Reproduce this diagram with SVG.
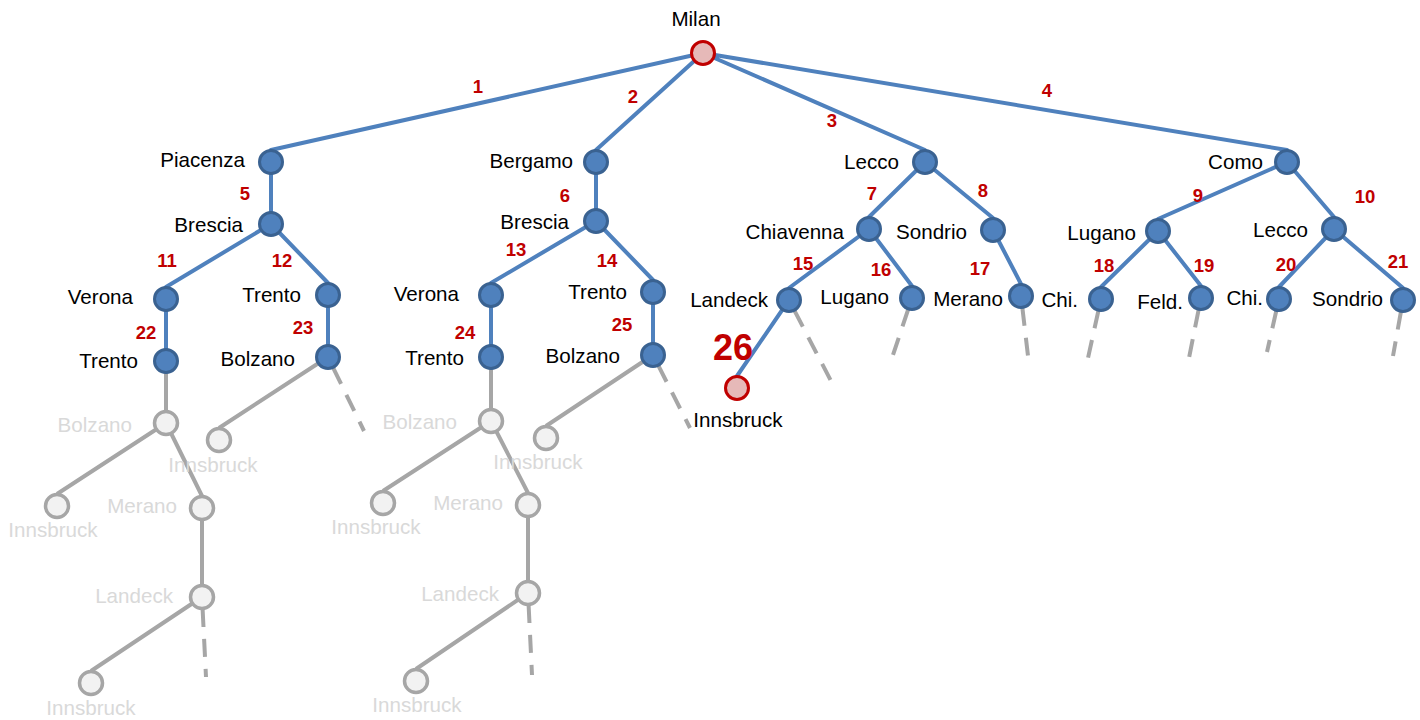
<svg xmlns="http://www.w3.org/2000/svg" width="1420" height="720" viewBox="0 0 1420 720">
<style>
.e{stroke:#4f81bd;stroke-width:4;fill:none;stroke-linecap:round}
.g{stroke:#a6a6a6;stroke-width:4;fill:none}
.d{stroke:#a6a6a6;stroke-width:4;fill:none;stroke-dasharray:18 12}
.n{fill:#4f81bd;stroke:#3a6291;stroke-width:3}
.r{fill:#e6b9b8;stroke:#c00000;stroke-width:3}
.gn{fill:#f2f2f2;stroke:#a6a6a6;stroke-width:3.5}
text{font-family:"Liberation Sans",Arial,sans-serif;font-size:20.6px}
.t{fill:#000;text-anchor:end}
.c{fill:#000;text-anchor:middle}
.gt{fill:#d9d9d9;text-anchor:end}
.gc{fill:#d9d9d9;text-anchor:middle}
.num{fill:#c00000;font-weight:bold;font-size:18.5px;text-anchor:middle}
.big{fill:#c00000;font-weight:bold;font-size:36px;text-anchor:middle}
</style>
<g id="connectors">
<path class="e" d="M703,53L271,150M703,53L596,150M703,53L925,150M703,53L1287,150"/>
<path class="e" d="M271,162L271,212M596,162L596,209"/>
<path class="e" d="M271,224L166,287M271,224L328,283M596,221L491,283M596,221L653,280"/>
<path class="e" d="M925,162L869,217M925,162L993,218M1287,162L1158,219M1287,162L1334,217"/>
<path class="e" d="M166,299L166,349M328,295L328,345M491,295L491,345M653,292L653,343"/>
<path class="e" d="M869,229L789,288M869,229L912,286M993,230L1021,284M1158,231L1101,287M1158,231L1201,286M1334,229L1279,287M1334,229L1403,288"/>
<path class="e" d="M789,300L737,376"/>
<path class="g" d="M166,361L166,411M166,423L57,494M166,423L202,496M202,508L202,585M202,597L91,671M328,357L219,428"/>
<path class="g" d="M491,357L491,409M491,421L383,491M491,421L528,493M528,505L528,581M528,593L416,669M653,355L546,426"/>
<path class="d" d="M333.2,367.8L364,431"/>
<path class="d" d="M658.4,365.7L690,428"/>
<path class="d" d="M794.5,310.7L831,381"/>
<path class="d" d="M908.2,309.4L893,355"/>
<path class="d" d="M1022.4,307.9L1028,356"/>
<path class="d" d="M1098.4,310.7L1088,358"/>
<path class="d" d="M1198.6,309.8L1189,358"/>
<path class="d" d="M1276.3,310.7L1267,352"/>
<path class="d" d="M1400.9,311.8L1393,356"/>
<path class="d" d="M202.6,609L206,677"/>
<path class="d" d="M528.6,605L532,675"/>
<text class="num" x="478" y="93">1</text>
<text class="num" x="633" y="103">2</text>
<text class="num" x="832" y="127">3</text>
<text class="num" x="1047" y="97">4</text>
<text class="num" x="245" y="200">5</text>
<text class="num" x="565" y="202">6</text>
<text class="num" x="872" y="200">7</text>
<text class="num" x="983" y="197">8</text>
<text class="num" x="1198" y="202">9</text>
<text class="num" x="1365" y="203">10</text>
<text class="num" x="167" y="267">11</text>
<text class="num" x="282" y="267">12</text>
<text class="num" x="516" y="256">13</text>
<text class="num" x="607" y="267">14</text>
<text class="num" x="803" y="270">15</text>
<text class="num" x="881" y="276">16</text>
<text class="num" x="980" y="275">17</text>
<text class="num" x="1104" y="272">18</text>
<text class="num" x="1204" y="272">19</text>
<text class="num" x="1286" y="271">20</text>
<text class="num" x="1398" y="268">21</text>
<text class="num" x="146" y="339">22</text>
<text class="num" x="303" y="334">23</text>
<text class="num" x="465" y="339">24</text>
<text class="num" x="622" y="331">25</text>
<text class="big" x="733" y="360">26</text>
</g>
<g id="milan"><circle class="r" cx="703" cy="53" r="11.5"/><text class="c" x="696" y="26">Milan</text></g>
<g id="piacenza"><circle class="n" cx="271" cy="162" r="11.5"/><text class="t" x="245" y="167">Piacenza</text></g>
<g id="brescia1"><circle class="n" cx="271" cy="224" r="11.5"/><text class="t" x="243" y="232">Brescia</text></g>
<g id="bergamo"><circle class="n" cx="596" cy="162" r="11.5"/><text class="t" x="573" y="168">Bergamo</text></g>
<g id="brescia2"><circle class="n" cx="596" cy="221" r="11.5"/><text class="t" x="569" y="229">Brescia</text></g>
<g id="lecco1"><circle class="n" cx="925" cy="162" r="11.5"/><text class="t" x="899" y="169">Lecco</text></g>
<g id="chiavenna"><circle class="n" cx="869" cy="229" r="11.5"/><text class="t" x="844" y="239">Chiavenna</text></g>
<g id="sondrio1"><circle class="n" cx="993" cy="230" r="11.5"/><text class="t" x="967" y="239">Sondrio</text></g>
<g id="como"><circle class="n" cx="1287" cy="162" r="11.5"/><text class="t" x="1263" y="169">Como</text></g>
<g id="lugano1"><circle class="n" cx="1158" cy="231" r="11.5"/><text class="t" x="1136" y="240">Lugano</text></g>
<g id="lecco2"><circle class="n" cx="1334" cy="229" r="11.5"/><text class="t" x="1308" y="237">Lecco</text></g>
<g id="verona1"><circle class="n" cx="166" cy="299" r="11.5"/><text class="t" x="133" y="304">Verona</text></g>
<g id="trento1"><circle class="n" cx="328" cy="295" r="11.5"/><text class="t" x="301" y="302">Trento</text></g>
<g id="trento1b"><circle class="n" cx="166" cy="361" r="11.5"/><text class="t" x="138" y="368">Trento</text></g>
<g id="bolzano1"><circle class="n" cx="328" cy="357" r="11.5"/><text class="t" x="295" y="366">Bolzano</text></g>
<g id="verona2"><circle class="n" cx="491" cy="295" r="11.5"/><text class="t" x="459" y="301">Verona</text></g>
<g id="trento2"><circle class="n" cx="653" cy="292" r="11.5"/><text class="t" x="627" y="299">Trento</text></g>
<g id="trento2b"><circle class="n" cx="491" cy="357" r="11.5"/><text class="t" x="464" y="365">Trento</text></g>
<g id="bolzano2"><circle class="n" cx="653" cy="355" r="11.5"/><text class="t" x="620" y="363">Bolzano</text></g>
<g id="landeck"><circle class="n" cx="789" cy="300" r="11.5"/><text class="t" x="768" y="307">Landeck</text></g>
<g id="lugano2"><circle class="n" cx="912" cy="298" r="11.5"/><text class="t" x="889" y="304">Lugano</text></g>
<g id="merano"><circle class="n" cx="1021" cy="296" r="11.5"/><text class="t" x="1003" y="306">Merano</text></g>
<g id="chi1"><circle class="n" cx="1101" cy="299" r="11.5"/><text class="t" x="1078" y="307">Chi.</text></g>
<g id="feld"><circle class="n" cx="1201" cy="298" r="11.5"/><text class="t" x="1183" y="309">Feld.</text></g>
<g id="chi2"><circle class="n" cx="1279" cy="299" r="11.5"/><text class="t" x="1263" y="305">Chi.</text></g>
<g id="sondrio2"><circle class="n" cx="1403" cy="300" r="11.5"/><text class="t" x="1383" y="306">Sondrio</text></g>
<g id="innsbruck"><circle class="r" cx="737" cy="388" r="11.5"/><text class="c" x="738" y="427">Innsbruck</text></g>
<g id="g-bolzano1"><circle class="gn" cx="166" cy="423" r="11.5"/><text class="gt" x="132" y="432">Bolzano</text></g>
<g id="g-innsbruck1a"><circle class="gn" cx="219" cy="440" r="11.5"/><text class="gc" x="213" y="472">Innsbruck</text></g>
<g id="g-innsbruck1b"><circle class="gn" cx="57" cy="506" r="11.5"/><text class="gc" x="53" y="537">Innsbruck</text></g>
<g id="g-merano1"><circle class="gn" cx="202" cy="508" r="11.5"/><text class="gt" x="177" y="513">Merano</text></g>
<g id="g-landeck1"><circle class="gn" cx="202" cy="597" r="11.5"/><text class="gt" x="173" y="603">Landeck</text></g>
<g id="g-innsbruck1c"><circle class="gn" cx="91" cy="683" r="11.5"/><text class="gc" x="91" y="715">Innsbruck</text></g>
<g id="g-bolzano2"><circle class="gn" cx="491" cy="421" r="11.5"/><text class="gt" x="457" y="429">Bolzano</text></g>
<g id="g-innsbruck2a"><circle class="gn" cx="546" cy="438" r="11.5"/><text class="gc" x="538" y="469">Innsbruck</text></g>
<g id="g-innsbruck2b"><circle class="gn" cx="383" cy="503" r="11.5"/><text class="gc" x="376" y="534">Innsbruck</text></g>
<g id="g-merano2"><circle class="gn" cx="528" cy="505" r="11.5"/><text class="gt" x="503" y="510">Merano</text></g>
<g id="g-landeck2"><circle class="gn" cx="528" cy="593" r="11.5"/><text class="gt" x="499" y="601">Landeck</text></g>
<g id="g-innsbruck2c"><circle class="gn" cx="416" cy="681" r="11.5"/><text class="gc" x="417" y="712">Innsbruck</text></g>
</svg>
